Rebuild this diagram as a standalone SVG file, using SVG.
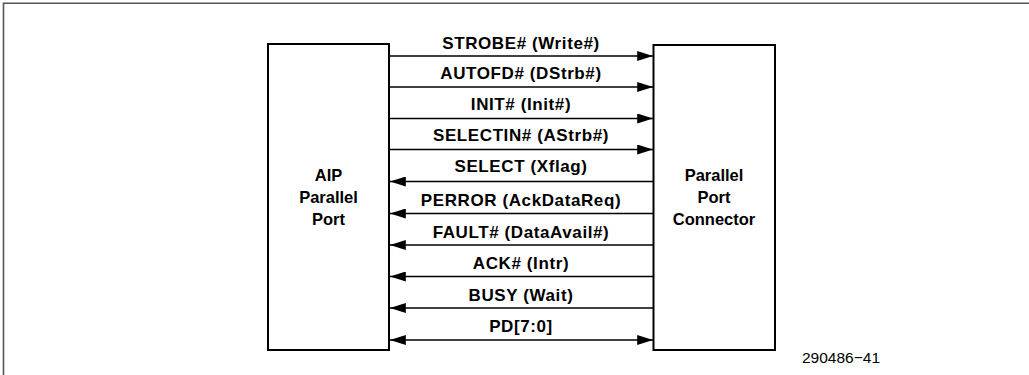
<svg xmlns="http://www.w3.org/2000/svg" width="1029" height="375" viewBox="0 0 1029 375">
<style>
.frame{fill:none;stroke:#555;stroke-width:1.6}
.box{fill:#fff;stroke:#000;stroke-width:2}
.sig{stroke:#000;stroke-width:1.6;fill:none}
.lbl{font-family:"Liberation Sans",Arial,sans-serif;font-weight:bold;font-size:17px;letter-spacing:0.6px;text-anchor:middle;fill:#000}
.node{font-family:"Liberation Sans",Arial,sans-serif;font-weight:bold;font-size:16.5px;text-anchor:middle;fill:#000}
.fig{font-family:"Liberation Sans",Arial,sans-serif;font-size:15.5px;fill:#000}
</style>
<defs>
<marker id="ah" markerUnits="userSpaceOnUse" markerWidth="16" markerHeight="10" refX="15" refY="4.75" orient="auto-start-reverse" viewBox="0 0 15 9.5">
<path d="M0,0 L15,4.75 L0,9.5 z" fill="#000"/>
</marker>
</defs>
<path class="frame" d="M3.5,375 V3.2 H1029"/>
<g id="aip">
<rect class="box" x="268" y="44" width="121" height="306"/>
<text class="node" x="328.5" y="181">AIP</text>
<text class="node" x="328.5" y="203">Parallel</text>
<text class="node" x="328.5" y="225">Port</text>
</g>
<g id="connector">
<rect class="box" x="653.5" y="45" width="121.5" height="305"/>
<text class="node" x="714" y="181">Parallel</text>
<text class="node" x="714" y="203">Port</text>
<text class="node" x="714" y="225">Connector</text>
</g>
<g id="connectors">
<line class="sig" x1="390" y1="56" x2="653" y2="56" marker-end="url(#ah)"/>
<line class="sig" x1="390" y1="87" x2="653" y2="87" marker-end="url(#ah)"/>
<line class="sig" x1="390" y1="118.5" x2="653" y2="118.5" marker-end="url(#ah)"/>
<line class="sig" x1="390" y1="149.5" x2="653" y2="149.5" marker-end="url(#ah)"/>
<line class="sig" x1="653" y1="181.5" x2="390" y2="181.5" marker-end="url(#ah)"/>
<line class="sig" x1="653" y1="213.5" x2="390" y2="213.5" marker-end="url(#ah)"/>
<line class="sig" x1="653" y1="245" x2="390" y2="245" marker-end="url(#ah)"/>
<line class="sig" x1="653" y1="276.5" x2="390" y2="276.5" marker-end="url(#ah)"/>
<line class="sig" x1="653" y1="308" x2="390" y2="308" marker-end="url(#ah)"/>
<line class="sig" x1="390" y1="340" x2="653" y2="340" marker-start="url(#ah)" marker-end="url(#ah)"/>
<text class="lbl" x="521" y="48.5">STROBE# (Write#)</text>
<text class="lbl" x="521" y="79">AUTOFD# (DStrb#)</text>
<text class="lbl" x="521" y="110">INIT# (Init#)</text>
<text class="lbl" x="521" y="141">SELECTIN# (AStrb#)</text>
<text class="lbl" x="521" y="172">SELECT (Xflag)</text>
<text class="lbl" x="521" y="206">PERROR (AckDataReq)</text>
<text class="lbl" x="521" y="237.5">FAULT# (DataAvail#)</text>
<text class="lbl" x="521" y="268.5">ACK# (Intr)</text>
<text class="lbl" x="521" y="300.5">BUSY (Wait)</text>
<text class="lbl" x="521" y="331.5">PD[7:0]</text>
</g>
<text class="fig" x="802" y="363">290486−41</text>
</svg>
